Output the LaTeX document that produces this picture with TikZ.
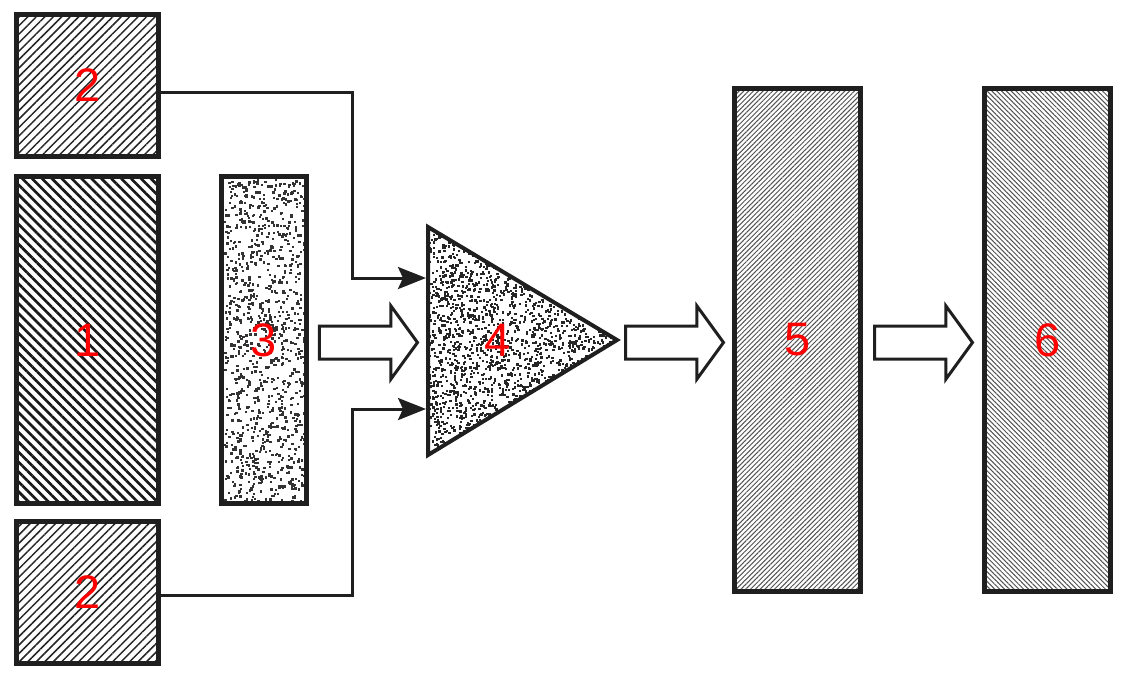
\documentclass[tikz,border=0pt]{standalone}
\usepackage{fontspec}
\newfontfamily\labfont{Liberation Sans}
\usetikzlibrary{patterns.meta,shapes.arrows,arrows.meta}

\begin{document}
\begin{tikzpicture}[x=1pt,y=-1pt,
  box/.style={draw=black!88,line width=4.5pt,inner sep=0pt,text=red,
    font=\labfont\fontsize{47}{50}\selectfont},
  hatchA/.style={pattern={Lines[angle=45,distance=6pt,line width=1.5pt]},pattern color=black!85},
  hatchB/.style={pattern={Lines[angle=-45,distance=7pt,line width=2.7pt]},pattern color=black!90},
  fineA/.style={pattern={Lines[angle=45,distance=3.4pt,line width=1pt]},pattern color=black!68},
  fineB/.style={pattern={Lines[angle=-45,distance=3.4pt,line width=1pt]},pattern color=black!68},
  fatarrow/.style={single arrow,draw=black!88,line width=3pt,fill=white,
    inner xsep=0pt,inner ysep=15pt,minimum height=98pt,
    single arrow head extend=20pt,single arrow tip angle=108},
  conn/.style={draw=black!88,line width=3pt,
    -{Stealth[length=28pt,width=22pt,inset=5pt]}}]
\useasboundingbox (0,0) rectangle (1126,681);

% source blocks
\node[box,hatchA,minimum width=142pt,minimum height=142pt] (b2a) at (87.5,85.5) {2};
\node[box,hatchB,minimum width=142pt,minimum height=327pt] (b1) at (87.5,340) {1};
\node[box,hatchA,minimum width=142pt,minimum height=142pt] (b2b) at (87.5,592.5) {2};

% block 3, random dots
\pgfmathsetseed{7}
\foreach \i in {1,...,1050}
  \fill[black!80] ({224+80*rnd},{179+322*rnd}) rectangle ++(2.4,2.4);
\node[box,minimum width=85pt,minimum height=327pt] (b3) at (264,340) {3};

% triangle 4
\coordinate (t4a) at (428,227);
\coordinate (t4b) at (617,340);
\coordinate (t4c) at (428,455);
\begin{scope}
\clip (t4a) -- (t4b) -- (t4c) -- cycle;
\foreach \i in {1,...,2800}
  \fill[black!85] ({428+189*rnd},{227+228*rnd}) rectangle ++(2.3,2.3);
\end{scope}
\draw[draw=black!88,line width=4pt,line join=miter] (t4a) -- (t4b) -- (t4c) -- cycle;
\node[text=red,font=\labfont\fontsize{47}{50}\selectfont] (n4) at (498,340) {4};
\coordinate (in4a) at (426,278);
\coordinate (in4b) at (426,409);

% blocks 5 and 6
\node[box,fineA,minimum width=126pt,minimum height=503pt] (b5) at (797.5,340) {5};
\node[box,fineB,minimum width=126pt,minimum height=503pt] (b6) at (1047.5,340) {6};

% wide arrows
\node[fatarrow] (a34) at (362.5,342.5) {};
\node[fatarrow] (a45) at (668.5,342.5) {};
\node[fatarrow] (a56) at (917.5,342.5) {};

% thin connectors
\draw[conn] ([yshift=-7pt]b2a.east) -| (352,278) -- (in4a);
\draw[conn] ([yshift=-2.5pt]b2b.east) -| (352,409) -- (in4b);
\end{tikzpicture}
\end{document}
